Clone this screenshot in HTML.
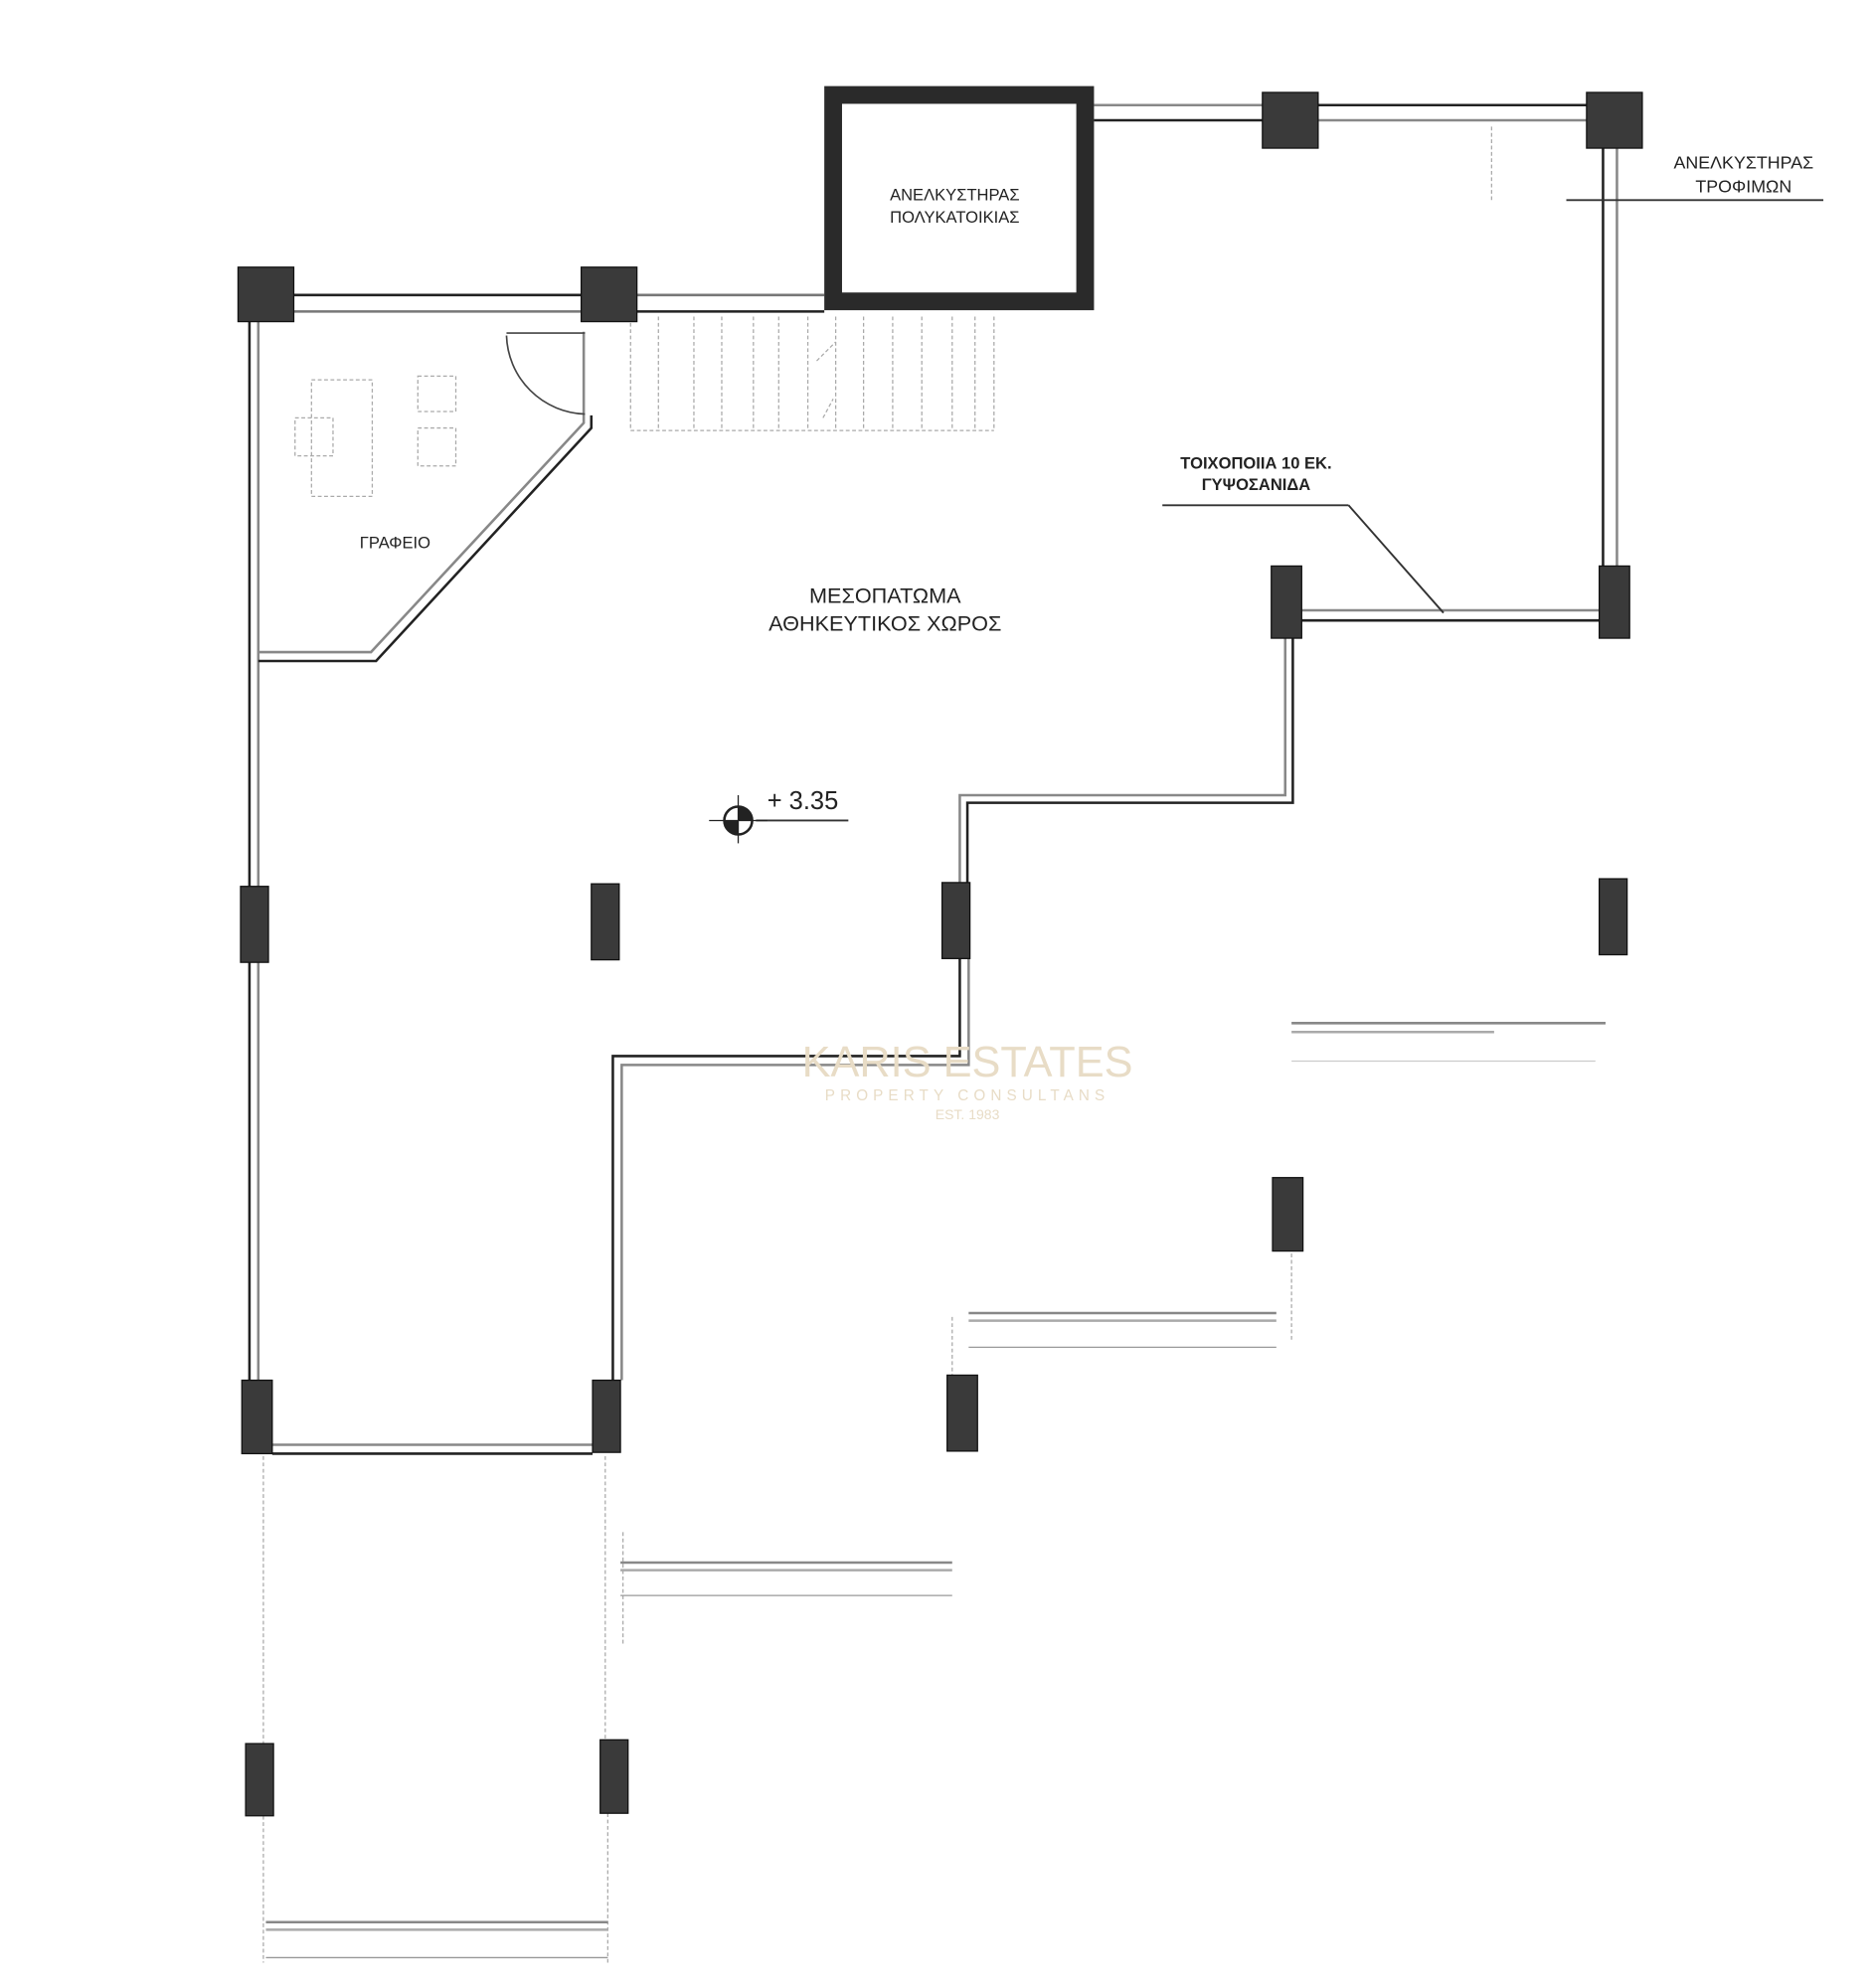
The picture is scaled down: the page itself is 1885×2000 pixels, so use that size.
<!DOCTYPE html>
<html><head><meta charset="utf-8"><style>
html,body{margin:0;padding:0;background:#fff;}
svg{display:block;}
text{font-family:"Liberation Sans","DejaVu Sans",sans-serif;}
</style></head><body>
<svg width="1885" height="2000" viewBox="0 0 1480 1570" preserveAspectRatio="none" xmlns="http://www.w3.org/2000/svg">
<rect width="1480" height="1570" fill="#fff"/>
<g fill="none" stroke="#222" stroke-width="2">
<!-- top left walls -->
<line x1="232" y1="233" x2="459" y2="233"/><line x1="232" y1="246" x2="459" y2="246" stroke="#777"/>
<line x1="503" y1="233" x2="651" y2="233" stroke="#777"/><line x1="503" y1="246" x2="651" y2="246"/>
<!-- top right walls -->
<line x1="864" y1="83" x2="997" y2="83" stroke="#888"/><line x1="864" y1="95" x2="997" y2="95"/>
<line x1="1041" y1="83" x2="1253" y2="83"/><line x1="1041" y1="95" x2="1253" y2="95" stroke="#888"/>
<!-- right vertical -->
<line x1="1266" y1="117" x2="1266" y2="447"/><line x1="1277" y1="117" x2="1277" y2="447" stroke="#888"/>
<!-- wall 10cm -->
<line x1="1028" y1="482" x2="1263" y2="482" stroke="#888"/><line x1="1028" y1="490" x2="1263" y2="490"/>
<!-- stepped wall -->
<polyline points="1015,504 1015,628 758,628 758,697" stroke="#888"/>
<polyline points="1021,504 1021,634 764,634 764,697"/>
<polyline points="758,757 758,834 484,834 484,1090"/>
<polyline points="765,757 765,841 491,841 491,1090" stroke="#888"/>
<!-- left wall -->
<line x1="197" y1="254" x2="197" y2="1090"/><line x1="204" y1="254" x2="204" y2="1090" stroke="#888"/>
<line x1="215" y1="1141" x2="468" y2="1141" stroke="#888"/><line x1="215" y1="1148" x2="468" y2="1148"/>
<!-- office diagonal -->
<polyline points="204,515 293,515 461,334 461,262" stroke="#888"/>
<polyline points="204,522 297,522 467,338 467,328"/>
</g>
<!-- door arc -->
<path d="M400,263 L462,263 M400,265 A64,64 0 0 0 462,327" fill="none" stroke="#444" stroke-width="1.3"/>
<!-- stairs -->
<g stroke="#aaa" stroke-width="1" stroke-dasharray="3,2" fill="none">
<line x1="498" y1="250" x2="498" y2="340"/><line x1="520" y1="250" x2="520" y2="340"/><line x1="548" y1="250" x2="548" y2="340"/><line x1="570" y1="250" x2="570" y2="340"/><line x1="595" y1="250" x2="595" y2="340"/><line x1="615" y1="250" x2="615" y2="340"/><line x1="638" y1="250" x2="638" y2="340"/><line x1="660" y1="250" x2="660" y2="340"/><line x1="682" y1="250" x2="682" y2="340"/><line x1="705" y1="250" x2="705" y2="340"/><line x1="728" y1="250" x2="728" y2="340"/><line x1="752" y1="250" x2="752" y2="340"/><line x1="770" y1="250" x2="770" y2="340"/><line x1="785" y1="250" x2="785" y2="340"/>
<line x1="498" y1="340" x2="785" y2="340"/>
<line x1="645" y1="285" x2="660" y2="270"/><line x1="650" y1="330" x2="658" y2="315"/>
<!-- furniture -->
<rect x="246" y="300" width="48" height="92"/><rect x="233" y="330" width="30" height="30"/>
<rect x="330" y="297" width="30" height="28"/><rect x="330" y="338" width="30" height="30"/>
<!-- faint verticals -->
<line x1="1178" y1="100" x2="1178" y2="160"/>
<line x1="1020" y1="960" x2="1020" y2="1060"/>
<line x1="752" y1="1040" x2="752" y2="1086"/>
<line x1="208" y1="1150" x2="208" y2="1377"/>
<line x1="478" y1="1150" x2="478" y2="1374"/>
<line x1="492" y1="1210" x2="492" y2="1300"/>
<line x1="208" y1="1434" x2="208" y2="1550"/>
<line x1="480" y1="1432" x2="480" y2="1550"/>
</g>
<!-- faint walls -->
<g stroke="#888" stroke-width="2">
<line x1="1020" y1="808" x2="1268" y2="808"/><line x1="1020" y1="815" x2="1180" y2="815" stroke="#aaa"/>
<line x1="1020" y1="838" x2="1260" y2="838" stroke="#ccc" stroke-width="1"/>
<line x1="765" y1="1037" x2="1008" y2="1037"/><line x1="765" y1="1043" x2="1008" y2="1043" stroke="#aaa"/>
<line x1="765" y1="1064" x2="1008" y2="1064" stroke="#999" stroke-width="1"/>
<line x1="490" y1="1234" x2="752" y2="1234"/><line x1="490" y1="1240" x2="752" y2="1240" stroke="#aaa"/>
<line x1="490" y1="1260" x2="752" y2="1260" stroke="#999" stroke-width="1"/>
<line x1="210" y1="1518" x2="480" y2="1518"/><line x1="210" y1="1524" x2="480" y2="1524" stroke="#aaa"/>
<line x1="210" y1="1546" x2="480" y2="1546" stroke="#999" stroke-width="1"/>
</g>
<!-- elevator -->
<rect x="658" y="75" width="199" height="163" fill="none" stroke="#2a2a2a" stroke-width="14"/>
<!-- columns -->
<g fill="#3a3a3a" stroke="#111" stroke-width="1">
<rect x="188" y="211" width="44" height="43"/><rect x="459" y="211" width="44" height="43"/>
<rect x="997" y="73" width="44" height="44"/><rect x="1253" y="73" width="44" height="44"/>
<rect x="1263" y="447" width="24" height="57"/><rect x="1004" y="447" width="24" height="57"/>
<rect x="744" y="697" width="22" height="60"/><rect x="467" y="698" width="22" height="60"/>
<rect x="190" y="700" width="22" height="60"/><rect x="191" y="1090" width="24" height="58"/>
<rect x="468" y="1090" width="22" height="57"/><rect x="1263" y="694" width="22" height="60"/>
<rect x="1005" y="930" width="24" height="58"/><rect x="748" y="1086" width="24" height="60"/>
<rect x="194" y="1377" width="22" height="57"/><rect x="474" y="1374" width="22" height="58"/>
</g>
<!-- leader lines -->
<g stroke="#333" stroke-width="1.5">
<line x1="1237" y1="158" x2="1440" y2="158"/>
<line x1="918" y1="399" x2="1065" y2="399"/><line x1="1065" y1="399" x2="1140" y2="484"/>
<line x1="597" y1="648" x2="670" y2="648"/>
</g>
<!-- level marker -->
<circle cx="583" cy="648" r="11" fill="none" stroke="#222" stroke-width="2"/>
<path d="M583,648 L583,637 A11,11 0 0 1 594,648 Z M583,648 L583,659 A11,11 0 0 1 572,648 Z" fill="#222"/>
<line x1="560" y1="648" x2="606" y2="648" stroke="#222" stroke-width="1"/>
<line x1="583" y1="628" x2="583" y2="666" stroke="#222" stroke-width="1"/>
<!-- text -->
<g fill="#222" text-anchor="middle">
<text x="754" y="158" font-size="13">ΑΝΕΛΚΥΣΤΗΡΑΣ</text>
<text x="754" y="176" font-size="13">ΠΟΛΥΚΑΤΟΙΚΙΑΣ</text>
<text x="1377" y="133" font-size="14">ΑΝΕΛΚΥΣΤΗΡΑΣ</text>
<text x="1377" y="152" font-size="14">ΤΡΟΦΙΜΩΝ</text>
<text x="992" y="370" font-size="13" font-weight="bold">ΤΟΙΧΟΠΟΙΙΑ 10 ΕΚ.</text>
<text x="992" y="387" font-size="13" font-weight="bold">ΓΥΨΟΣΑΝΙΔΑ</text>
<text x="312" y="433" font-size="13">ΓΡΑΦΕΙΟ</text>
<text x="699" y="476" font-size="17">ΜΕΣΟΠΑΤΩΜΑ</text>
<text x="699" y="498" font-size="17">ΑΘΗΚΕΥΤΙΚΟΣ ΧΩΡΟΣ</text>
<text x="634" y="639" font-size="20">+ 3.35</text>
</g>
<!-- watermark -->
<g fill="#e8dcc6" text-anchor="middle">
<text x="764" y="850" font-size="34">KARIS ESTATES</text>
<text x="764" y="869" font-size="12" letter-spacing="4">PROPERTY CONSULTANS</text>
<text x="764" y="884" font-size="11">EST. 1983</text>
</g>
</svg>
</body></html>
